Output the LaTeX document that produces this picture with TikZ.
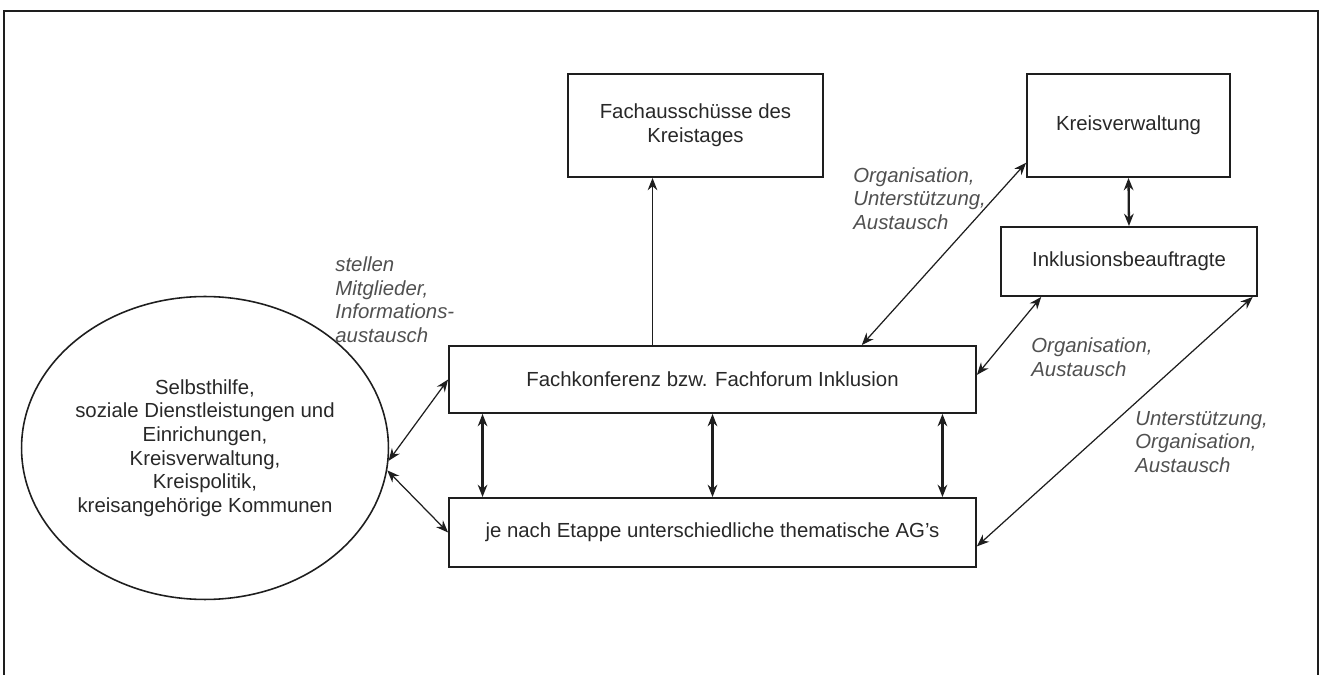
\documentclass[tikz,border=0pt]{standalone}
\usepackage{fontspec}
\setmainfont{Liberation Sans}
\usetikzlibrary{arrows.meta, shapes.geometric}
\definecolor{textgrau}{RGB}{40,40,40}
\definecolor{labelgrau}{RGB}{80,80,80}
\definecolor{rahmen}{RGB}{30,30,30}

\begin{document}
\begin{tikzpicture}[x=0.02cm, y=-0.02cm,
        font=\fontsize{11.6}{13.4}\selectfont,
        >={Stealth[length=7pt,width=5.5pt]},
        kasten/.style={draw=rahmen, line width=1.1pt, text=textgrau, align=center, inner sep=0pt},
        hinweis/.style={text=labelgrau, align=left, anchor=west, inner sep=0pt, font=\fontsize{11.6}{13.4}\selectfont\itshape},
        duenn/.style={<->, line width=0.7pt, draw=rahmen},
        dick/.style={<->, line width=1.3pt, draw=rahmen}]
        \useasboundingbox (0,0) rectangle (1320,675);

        % frame
        \draw[rahmen, line width=1.6pt] (4,675) -- (4,11) -- (1318,11) -- (1318,675);

        % boxes
        \node[kasten, minimum width=5.1cm, minimum height=2.06cm] (fachaus) at (695.5,125.5) {Fachausschüsse des\\Kreistages};
        \node[kasten, minimum width=4.06cm, minimum height=2.06cm] (kreisverw) at (1128.5,125.5) {Kreisverwaltung};
        \node[kasten, minimum width=5.12cm, minimum height=1.38cm] (inkl) at (1129,261.5) {Inklusionsbeauftragte};
        \node[kasten, minimum width=10.54cm, minimum height=1.34cm] (fachkonf) at (712.5,379.5) {Fachkonferenz bzw. Fachforum Inklusion};
        \node[kasten, minimum width=10.54cm, minimum height=1.38cm] (ags) at (712.5,532.5) {je nach Etappe unterschiedliche thematische AG's};

        % circle
        \node[kasten, ellipse, line width=0.9pt, minimum width=6.48cm, minimum height=6.06cm] (kreis) at (205,448) {Selbsthilfe,\\soziale Dienstleistungen und\\Einrichungen,\\Kreisverwaltung,\\Kreispolitik,\\kreisangehörige Kommunen};

        % labels
        \node[hinweis] (l1) at (335,299.5) {stellen\\Mitglieder,\\Informations-\\austausch};
        \node[hinweis] (l2) at (853,198.5) {Organisation,\\Unterstützung,\\Austausch};
        \node[hinweis] (l3) at (1031,357) {Organisation,\\Austausch};
        \node[hinweis] (l4) at (1135,442) {Unterstützung,\\Organisation,\\Austausch};

        % connections
        \draw[->, line width=0.7pt, draw=rahmen] ([xshift=-1.2cm]fachkonf.north) -- ([xshift=-1.2cm]fachkonf.north |- fachaus.south);
        \draw[dick] (kreisverw.south) -- (inkl.north);
        \foreach \dx in {-4.6,0,4.6}
            \draw[dick] ([xshift=\dx cm]fachkonf.south) -- ([xshift=\dx cm]ags.north);
        \draw[duenn] (kreis.-4) -- (fachkonf.west);
        \draw[duenn] (kreis.-7) -- (ags.west);
        \draw[duenn] (fachkonf.13) -- (kreisverw.200);
        \draw[duenn] (fachkonf.1) -- (inkl.202);
        \draw[duenn] (ags.-3) -- (inkl.-16);
\end{tikzpicture}
\end{document}
